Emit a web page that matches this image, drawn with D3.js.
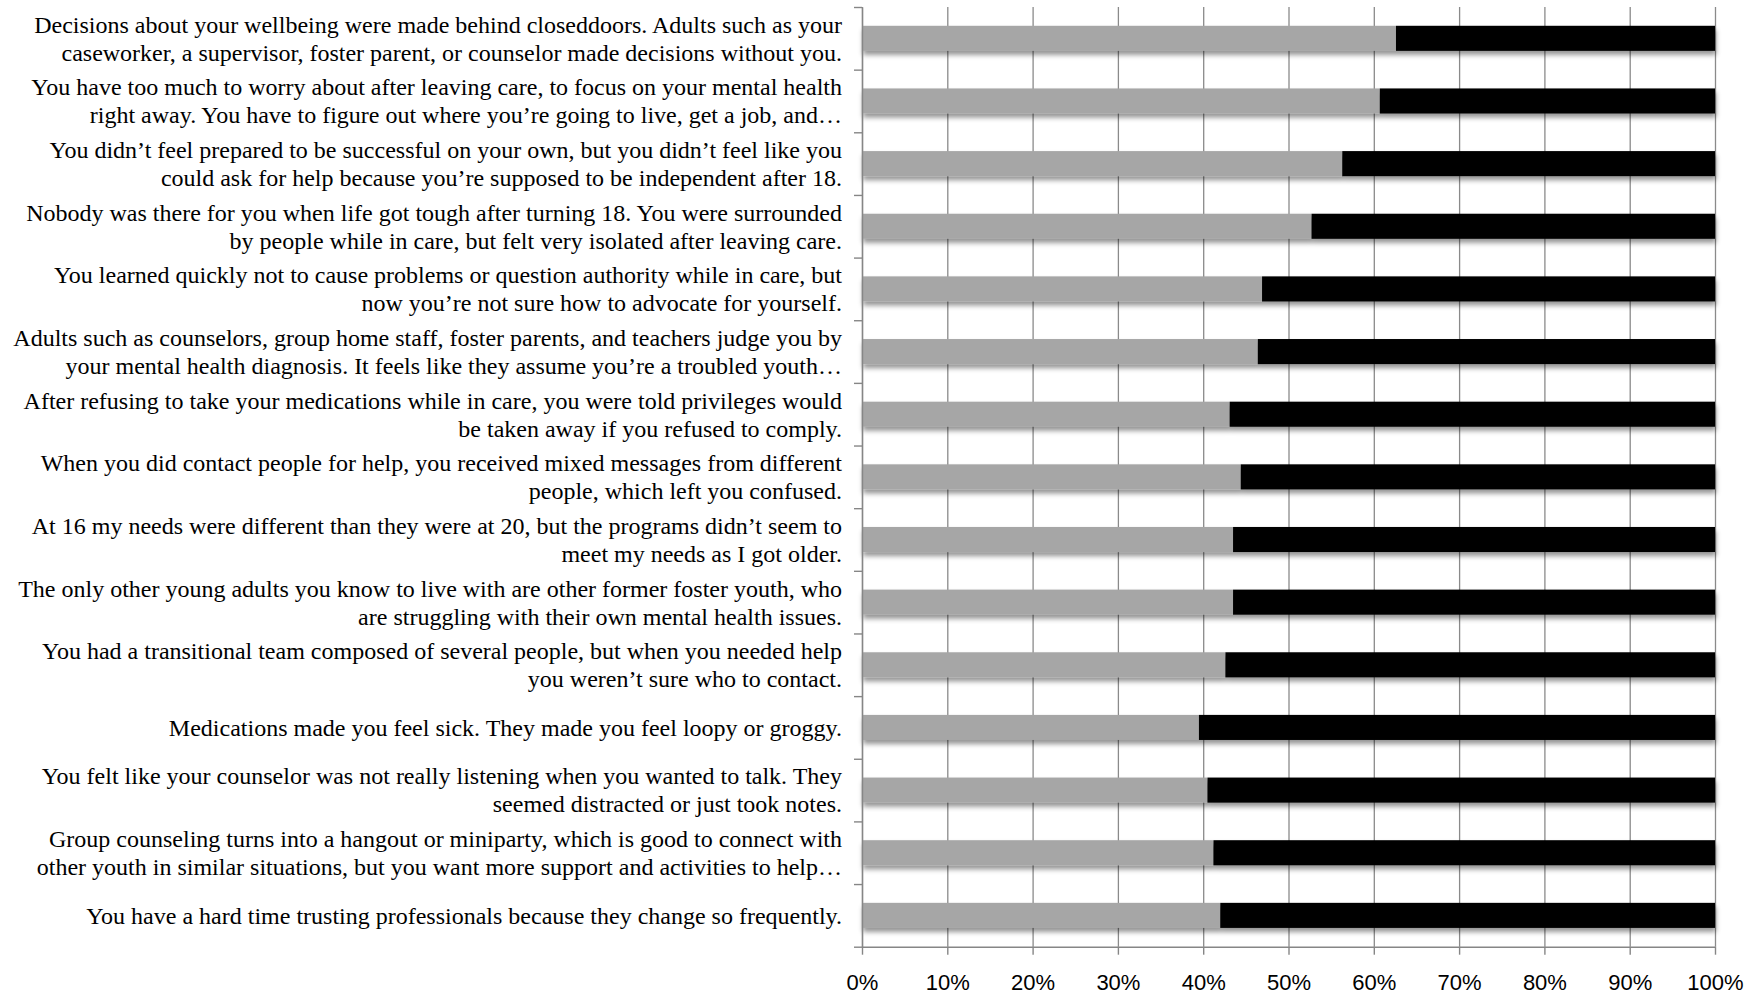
<!DOCTYPE html>
<html>
<head>
<meta charset="utf-8">
<script src="https://cdn.jsdelivr.net/npm/d3@7"></script>
<style>
  html, body { margin: 0; padding: 0; background: #fff; }
  svg { display: block; }
</style>
</head>
<body>
<script>
// Survey statements (line breaks as shown on the axis)
const statements = [
  "Decisions about your wellbeing were made behind closeddoors. Adults such as your\ncaseworker, a supervisor, foster parent, or counselor made decisions without you.",
  "You have too much to worry about after leaving care, to focus on your mental health\nright away. You have to figure out where you\u2019re going to live, get a job, and\u2026",
  "You didn\u2019t feel prepared to be successful on your own, but you didn\u2019t feel like you\ncould ask for help because you\u2019re supposed to be independent after 18.",
  "Nobody was there for you when life got tough after turning 18. You were surrounded\nby people while in care, but felt very isolated after leaving care.",
  "You learned quickly not to cause problems or question authority while in care, but\nnow you\u2019re not sure how to advocate for yourself.",
  "Adults such as counselors, group home staff, foster parents, and teachers judge you by\nyour mental health diagnosis. It feels like they assume you\u2019re a troubled youth\u2026",
  "After refusing to take your medications while in care, you were told privileges would\nbe taken away if you refused to comply.",
  "When you did contact people for help, you received mixed messages from different\npeople, which left you confused.",
  "At 16 my needs were different than they were at 20, but the programs didn\u2019t seem to\nmeet my needs as I got older.",
  "The only other young adults you know to live with are other former foster youth, who\nare struggling with their own mental health issues.",
  "You had a transitional team composed of several people, but when you needed help\nyou weren\u2019t sure who to contact.",
  "Medications made you feel sick. They made you feel loopy or groggy.",
  "You felt like your counselor was not really listening when you wanted to talk. They\nseemed distracted or just took notes.",
  "Group counseling turns into a hangout or miniparty, which is good to connect with\nother youth in similar situations, but you want more support and activities to help\u2026",
  "You have a hard time trusting professionals because they change so frequently."
];

// Share of responses per statement, in percent (grey segment, then black segment)
const greyShare  = [62.6, 60.7, 56.3, 52.7, 46.9, 46.4, 43.1, 44.4, 43.5, 43.5, 42.6, 39.5, 40.5, 41.2, 42.0];
const blackShare = [37.4, 39.3, 43.7, 47.3, 53.1, 53.6, 56.9, 55.6, 56.5, 56.5, 57.4, 60.5, 59.5, 58.8, 58.0];

const xTicks = [0, 10, 20, 30, 40, 50, 60, 70, 80, 90, 100];
const seriesKeys = ["grey", "black"];
const seriesColors = ["#a6a6a6", "#000000"];

const W = 1764, H = 995;
const plot = { left: 862, right: 1715, top: 7, bottom: 946.7 };

const svg = d3.select("body").append("svg")
  .attr("width", W).attr("height", H)
  .attr("viewBox", `0 0 ${W} ${H}`);

// soft drop shadow under the bars
const defs = svg.append("defs");
const f = defs.append("filter").attr("id", "barShadow")
  .attr("x", "-5%").attr("y", "-40%").attr("width", "110%").attr("height", "200%");
f.append("feDropShadow")
  .attr("dx", 1).attr("dy", 4).attr("stdDeviation", 2.6)
  .attr("flood-color", "#000").attr("flood-opacity", 0.42);

const rows = statements.map((s, i) => ({ i, label: s, grey: greyShare[i], black: blackShare[i] }));

const x = d3.scaleLinear().domain([0, 100]).range([plot.left, plot.right]);
const y = d3.scaleBand().domain(d3.range(rows.length))
  .range([plot.top, plot.bottom]).paddingInner(0.6).paddingOuter(0.3);
const yEdge = d3.scaleLinear().domain([0, rows.length]).range([plot.top, plot.bottom]);

// vertical gridlines
svg.append("g")
  .attr("transform", `translate(0,${plot.bottom})`)
  .call(d3.axisBottom(x).tickValues(xTicks).tickSize(-(plot.bottom - plot.top)).tickFormat(""))
  .call(g => g.select(".domain").remove())
  .call(g => g.selectAll("line").attr("stroke", "#8a8a8a").attr("stroke-width", 1.3));

// stacked bars
const stacked = d3.stack().keys(seriesKeys)(rows);
const barLayer = svg.append("g").attr("filter", "url(#barShadow)");
barLayer.selectAll("g.series")
  .data(stacked)
  .join("g")
  .attr("class", "series")
  .attr("fill", (d, k) => seriesColors[k])
  .selectAll("rect")
  .data(d => d)
  .join("rect")
  .attr("x", d => x(d[0]))
  .attr("width", d => x(d[1]) - x(d[0]))
  .attr("y", d => y(d.data.i))
  .attr("height", y.bandwidth());

// category axis (ticks at band edges)
svg.append("g")
  .attr("transform", `translate(${plot.left},0)`)
  .call(d3.axisLeft(yEdge).tickValues(d3.range(rows.length + 1)).tickSize(8).tickSizeOuter(0).tickFormat(""))
  .call(g => g.selectAll("line, path").attr("stroke", "#868686").attr("stroke-width", 1.4));

// value axis
svg.append("g")
  .attr("transform", `translate(0,${plot.bottom})`)
  .call(d3.axisBottom(x).tickValues(xTicks).tickSize(8).tickSizeOuter(0).tickPadding(20).tickFormat(d => d + "%"))
  .call(g => g.selectAll("line, path").attr("stroke", "#868686").attr("stroke-width", 1.4))
  .call(g => g.selectAll("text")
    .attr("fill", "#000")
    .attr("font-family", "'Liberation Sans', Arial, sans-serif")
    .attr("font-size", 22));

// wrapped statement labels
const lineH = 28;
const labels = svg.append("g")
  .attr("font-family", "'Liberation Serif', 'Times New Roman', serif")
  .attr("font-size", 24)
  .attr("fill", "#000")
  .attr("text-anchor", "end");
rows.forEach(r => {
  const lines = r.label.split("\n");
  const cy = yEdge(r.i + 0.5);
  const t = labels.append("text").attr("x", 842);
  lines.forEach((ln, k) => {
    t.append("tspan")
      .attr("x", 842)
      .attr("y", cy + (k - (lines.length - 1) / 2) * lineH)
      .attr("dy", "0.35em")
      .text(ln);
  });
});
</script>
</body>
</html>
